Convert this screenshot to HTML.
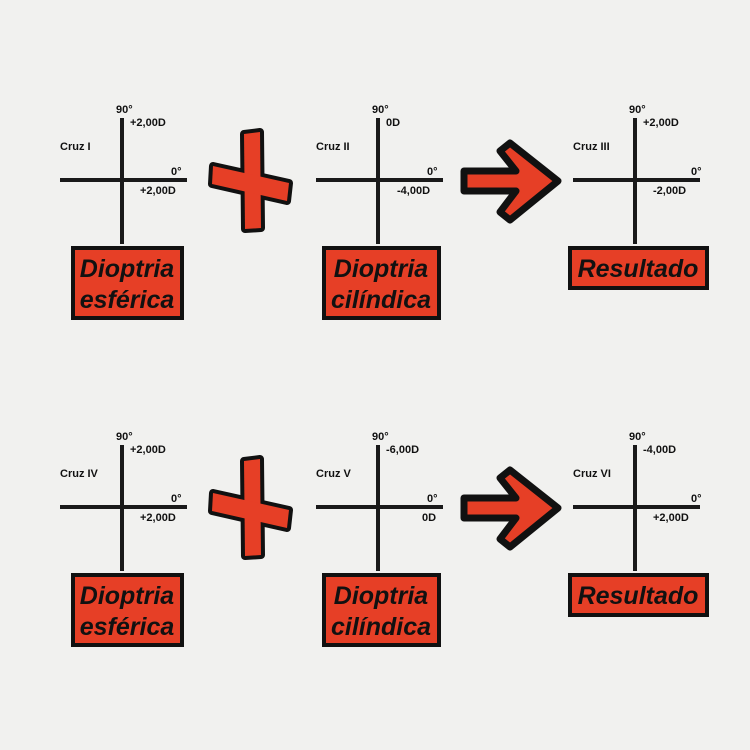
<!DOCTYPE html>
<html><head><meta charset="utf-8"><style>
body{margin:0;background:#f1f1ef}
svg{display:block}
.l{font:bold 11px "Liberation Sans",sans-serif;fill:#111}
.b{font:italic bold 25px "Liberation Sans",sans-serif;fill:#111}
</style></head><body>
<svg width="750" height="750" viewBox="0 0 750 750">
<rect width="750" height="750" fill="#f1f1ef"/>
<defs>
<g id="plus">
<g stroke="#111" stroke-width="8" stroke-linejoin="round" fill="#111">
<polygon points="244,134 260,132 261,228 245,229" />
<polygon points="213,166 289,183 287,201 212,184" />
</g>
<g fill="#e63f26">
<polygon points="244,134 260,132 261,228 245,229" />
<polygon points="213,166 289,183 287,201 212,184" />
</g>
</g>
<g id="arrow">
<polygon points="464,171 516,171 500,151 510,143 558,181 510,220 500,212 516,191 464,191" fill="#e63f26" stroke="#111" stroke-width="7" stroke-linejoin="round"/>
</g>
</defs>

<!-- row 1 -->
<g>
<rect x="60" y="178" width="127" height="4" fill="#1a1a1a"/><rect x="120" y="118" width="4" height="126" fill="#1a1a1a"/>
<text class="l" x="116" y="113">90°</text><text class="l" x="130" y="126">+2,00D</text>
<text class="l" x="60" y="150">Cruz I</text><text class="l" x="171" y="175">0°</text><text class="l" x="140" y="194">+2,00D</text>
<rect x="73" y="248" width="109" height="70" fill="#e63f26" stroke="#111" stroke-width="4"/>
<text class="b" x="127" y="277" text-anchor="middle">Dioptria</text><text class="b" x="127" y="308" text-anchor="middle">esférica</text>

<rect x="316" y="178" width="127" height="4" fill="#1a1a1a"/><rect x="376" y="118" width="4" height="126" fill="#1a1a1a"/>
<text class="l" x="372" y="113">90°</text><text class="l" x="386" y="126">0D</text>
<text class="l" x="316" y="150">Cruz II</text><text class="l" x="427" y="175">0°</text><text class="l" x="397" y="194">-4,00D</text>
<rect x="324" y="248" width="115" height="70" fill="#e63f26" stroke="#111" stroke-width="4"/>
<text class="b" x="381" y="277" text-anchor="middle">Dioptria</text><text class="b" x="381" y="308" text-anchor="middle">cilíndica</text>

<rect x="573" y="178" width="127" height="4" fill="#1a1a1a"/><rect x="633" y="118" width="4" height="126" fill="#1a1a1a"/>
<text class="l" x="629" y="113">90°</text><text class="l" x="643" y="126">+2,00D</text>
<text class="l" x="573" y="150">Cruz III</text><text class="l" x="691" y="175">0°</text><text class="l" x="653" y="194">-2,00D</text>
<rect x="570" y="248" width="137" height="40" fill="#e63f26" stroke="#111" stroke-width="4"/>
<text class="b" x="638" y="277" text-anchor="middle">Resultado</text>
<use href="#plus"/><use href="#arrow"/>
</g>

<!-- row 2 -->
<g transform="translate(0,327)">
<rect x="60" y="178" width="127" height="4" fill="#1a1a1a"/><rect x="120" y="118" width="4" height="126" fill="#1a1a1a"/>
<text class="l" x="116" y="113">90°</text><text class="l" x="130" y="126">+2,00D</text>
<text class="l" x="60" y="150">Cruz IV</text><text class="l" x="171" y="175">0°</text><text class="l" x="140" y="194">+2,00D</text>
<rect x="73" y="248" width="109" height="70" fill="#e63f26" stroke="#111" stroke-width="4"/>
<text class="b" x="127" y="277" text-anchor="middle">Dioptria</text><text class="b" x="127" y="308" text-anchor="middle">esférica</text>

<rect x="316" y="178" width="127" height="4" fill="#1a1a1a"/><rect x="376" y="118" width="4" height="126" fill="#1a1a1a"/>
<text class="l" x="372" y="113">90°</text><text class="l" x="386" y="126">-6,00D</text>
<text class="l" x="316" y="150">Cruz V</text><text class="l" x="427" y="175">0°</text><text class="l" x="422" y="194">0D</text>
<rect x="324" y="248" width="115" height="70" fill="#e63f26" stroke="#111" stroke-width="4"/>
<text class="b" x="381" y="277" text-anchor="middle">Dioptria</text><text class="b" x="381" y="308" text-anchor="middle">cilíndica</text>

<rect x="573" y="178" width="127" height="4" fill="#1a1a1a"/><rect x="633" y="118" width="4" height="126" fill="#1a1a1a"/>
<text class="l" x="629" y="113">90°</text><text class="l" x="643" y="126">-4,00D</text>
<text class="l" x="573" y="150">Cruz VI</text><text class="l" x="691" y="175">0°</text><text class="l" x="653" y="194">+2,00D</text>
<rect x="570" y="248" width="137" height="40" fill="#e63f26" stroke="#111" stroke-width="4"/>
<text class="b" x="638" y="277" text-anchor="middle">Resultado</text>
<use href="#plus"/><use href="#arrow"/>
</g>
</svg>
</body></html>
